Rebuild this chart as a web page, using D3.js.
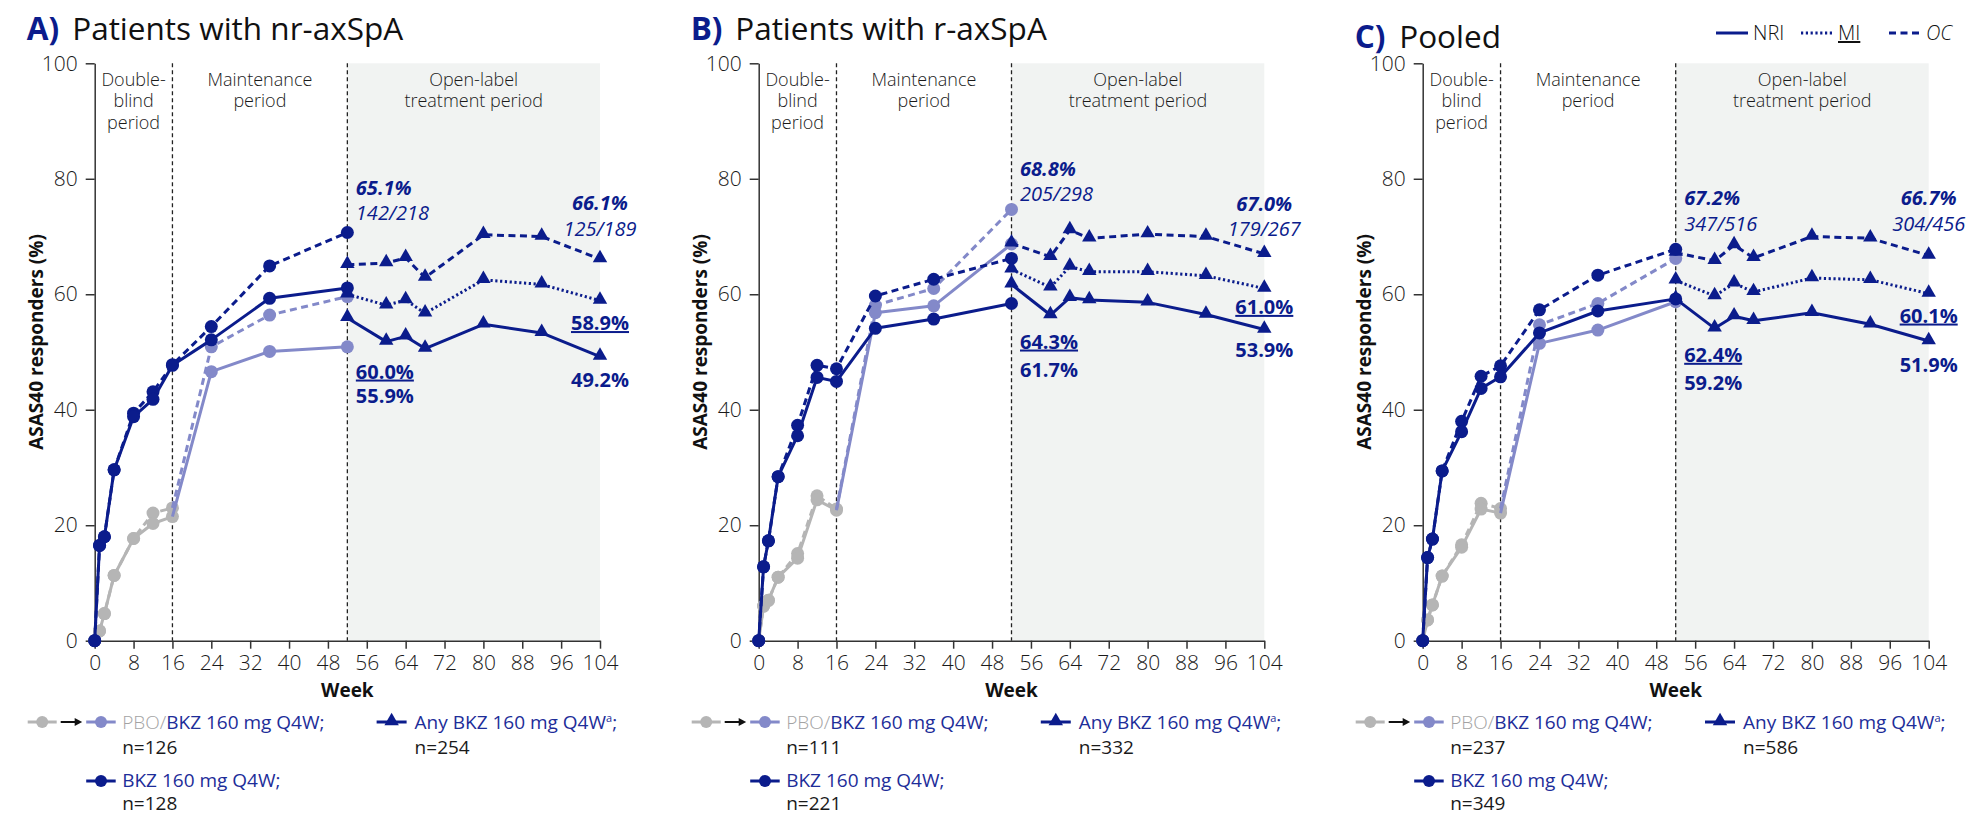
<!DOCTYPE html>
<html>
<head>
<meta charset="utf-8">
<script src="https://cdn.jsdelivr.net/npm/d3@7"></script>
<style>
  body { margin: 0; background: #fff; }
  text { font-family: "Open Sans", Lato, sans-serif; }
  .lt { font-weight: 300; }
</style>
</head>
<body>
<svg id="chart" width="1968" height="816"></svg>
<script>
// ---- data (ASAS40 responders, %) ----
const xTicks = [0, 8, 16, 24, 32, 40, 48, 56, 64, 72, 80, 88, 96, 104];
const yTicks = [0, 20, 40, 60, 80, 100];
const periodBreaks = [16, 52];

const weeksEarly = [0, 1, 2, 4, 8, 12, 16];
const weeksSwitch = [16, 24, 36, 52];
const weeksBkz = [0, 1, 2, 4, 8, 12, 16, 24, 36, 52];
const weeksOle = [52, 60, 64, 68, 80, 92, 104];

// A) nr-axSpA
const pboNriA = [0, 1.7, 4.7, 11.3, 17.7, 20.3, 21.5];
const pboOcA = [0, 1.7, 4.7, 11.3, 17.7, 22.1, 23.0];
const switchNriA = [21.5, 46.6, 50.1, 50.9];
const switchOcA = [23.0, 50.9, 56.4, 59.6];
const bkzNriA = [0, 16.5, 18.0, 29.6, 38.8, 41.8, 47.7, 52.1, 59.3, 61.1];
const bkzOcA = [0, 16.5, 18.0, 29.6, 39.4, 43.1, 47.8, 54.4, 64.9, 70.7];
const anyNriA = [55.9, 51.8, 52.7, 50.6, 54.8, 53.3, 49.2];
const anyMiA = [60.0, 58.1, 59.0, 56.7, 62.5, 61.7, 58.9];
const anyOcA = [65.1, 65.4, 66.3, 62.9, 70.3, 70.0, 66.1];

// B) r-axSpA
const pboNriB = [0, 6.0, 7.0, 11.0, 14.3, 24.4, 22.6];
const pboOcB = [0, 6.0, 7.0, 11.0, 15.1, 25.1, 22.8];
const switchNriB = [22.6, 56.8, 58.0, 68.7];
const switchOcB = [22.8, 58.1, 61.0, 74.7];
const bkzNriB = [0, 12.8, 17.3, 28.4, 35.5, 45.6, 44.9, 54.1, 55.7, 58.4];
const bkzOcB = [0, 12.8, 17.3, 28.4, 37.3, 47.7, 47.1, 59.7, 62.6, 66.2];
const anyNriB = [61.7, 56.4, 59.4, 59.0, 58.6, 56.5, 53.9];
const anyMiB = [64.3, 61.2, 64.8, 63.9, 63.9, 63.2, 61.0];
const anyOcB = [68.8, 66.5, 71.1, 69.7, 70.4, 70.0, 67.0];

// C) pooled
const pboNriC = [0, 3.6, 6.2, 11.2, 16.2, 22.8, 22.1];
const pboOcC = [0, 3.6, 6.2, 11.2, 16.6, 23.8, 22.9];
const switchNriC = [22.1, 51.5, 53.8, 58.7];
const switchOcC = [22.9, 54.7, 58.4, 66.2];
const bkzNriC = [0, 14.4, 17.6, 29.4, 36.2, 43.7, 45.7, 53.3, 57.1, 59.2];
const bkzOcC = [0, 14.4, 17.6, 29.4, 38.0, 45.8, 47.6, 57.3, 63.3, 67.8];
const anyNriC = [59.2, 54.1, 56.2, 55.4, 56.8, 54.8, 51.9];
const anyMiC = [62.4, 59.7, 61.9, 60.4, 62.8, 62.5, 60.1];
const anyOcC = [67.2, 65.8, 68.5, 66.3, 70.0, 69.7, 66.7];

// annotations: [text, week, anchor value, style]
const labelsA = [["65.1%", 52, 77.2, "bi"], ["142/218", 52, 72.9, "i"], ["66.1%", 104, 74.6, "bi"], ["125/189", 104, 70.1, "i"],
  ["58.9%", 104, 53.8, "bu"], ["49.2%", 104, 44.0, "b"], ["60.0%", 52, 45.4, "bu"], ["55.9%", 52, 41.1, "b"]];
const labelsB = [["68.8%", 52, 80.5, "bi"], ["205/298", 52, 76.2, "i"], ["67.0%", 104, 74.5, "bi"], ["179/267", 104, 70.1, "i"],
  ["61.0%", 104, 56.6, "bu"], ["53.9%", 104, 49.2, "b"], ["64.3%", 52, 50.6, "bu"], ["61.7%", 52, 45.7, "b"]];
const labelsC = [["67.2%", 52, 75.5, "bi"], ["347/516", 52, 71.0, "i"], ["66.7%", 104, 75.5, "bi"], ["304/456", 104, 71.0, "i"],
  ["60.1%", 104, 55.1, "bu"], ["51.9%", 104, 46.6, "b"], ["62.4%", 52, 48.3, "bu"], ["59.2%", 52, 43.4, "b"]];

const panels = [
  { letter: "A)", title: "Patients with nr-axSpA", ty: 40, x0: 94.7, x1: 600,
    pboNri: pboNriA, pboOc: pboOcA, swNri: switchNriA, swOc: switchOcA, bkzNri: bkzNriA, bkzOc: bkzOcA,
    anyNri: anyNriA, anyMi: anyMiA, anyOc: anyOcA, labels: labelsA, nSw: "n=126", nBkz: "n=128", nAny: "n=254" },
  { letter: "B)", title: "Patients with r-axSpA", ty: 40, x0: 758.7, x1: 1264.3,
    pboNri: pboNriB, pboOc: pboOcB, swNri: switchNriB, swOc: switchOcB, bkzNri: bkzNriB, bkzOc: bkzOcB,
    anyNri: anyNriB, anyMi: anyMiB, anyOc: anyOcB, labels: labelsB, nSw: "n=111", nBkz: "n=221", nAny: "n=332" },
  { letter: "C)", title: "Pooled", ty: 48, x0: 1422.7, x1: 1928.7,
    pboNri: pboNriC, pboOc: pboOcC, swNri: switchNriC, swOc: switchOcC, bkzNri: bkzNriC, bkzOc: bkzOcC,
    anyNri: anyNriC, anyMi: anyMiC, anyOc: anyOcC, labels: labelsC, nSw: "n=237", nBkz: "n=349", nAny: "n=586" }
];

// ---- styles ----
const BLUE = "#0b1c8c", LIGHT = "#8389c9", GRAY = "#b5b5b5", SHADE = "#f1f3f2", TEXT = "#1a1a1a", LEGBLUE = "#1d2d99";
const DASH = "7,4.5", DOT = "2.2,2.6";

const svg = d3.select("#chart");
const y = d3.scaleLinear().domain([0, 100]).range([640.7, 63.3]);

function drawSeries(g, x, weeks, vals, color, dash, marker, skipFirst) {
  const pts = weeks.map((w, i) => [w, vals[i]]);
  g.append("path").datum(pts)
    .attr("fill", "none").attr("stroke", color).attr("stroke-width", 3)
    .attr("stroke-dasharray", dash).attr("stroke-linejoin", "round")
    .attr("d", d3.line().x(d => x(d[0])).y(d => y(d[1])));
  const mp = skipFirst ? pts.slice(1) : pts;
  if (marker === "circle") {
    g.selectAll(null).data(mp).enter().append("circle")
      .attr("cx", d => x(d[0])).attr("cy", d => y(d[1])).attr("r", 6.5).attr("fill", color);
  } else {
    g.selectAll(null).data(mp).enter().append("path")
      .attr("transform", d => `translate(${x(d[0])},${y(d[1]) - 1})`)
      .attr("d", d3.symbol().type(d3.symbolTriangle).size(90)).attr("fill", color);
  }
}

function drawPanel(p) {
  const x = d3.scaleLinear().domain([0, 104]).range([p.x0, p.x1]);
  const g = svg.append("g");

  // title
  g.append("text").attr("x", p.x0 - 68).attr("y", p.ty).attr("font-size", 31.5)
    .attr("font-weight", "bold").attr("fill", BLUE).text(p.letter);
  g.append("text").attr("x", p.x0 - 68 + (p.letter === "A)" ? 45.5 : 44.5)).attr("y", p.ty).attr("font-size", 31.5)
    .attr("fill", "#111").text(p.title);

  // open-label shading
  g.append("rect").attr("x", x(52)).attr("y", y(100))
    .attr("width", x(104) - x(52)).attr("height", y(0) - y(100)).attr("fill", SHADE);

  // period separators
  g.selectAll(null).data(periodBreaks).enter().append("line")
    .attr("x1", d => x(d)).attr("x2", d => x(d)).attr("y1", y(100)).attr("y2", y(0))
    .attr("stroke", "#222").attr("stroke-width", 1.3).attr("stroke-dasharray", "4,3");

  // period labels
  const top = y(100);
  const per = [[8, ["Double-", "blind", "period"]], [34, ["Maintenance", "period"]], [78, ["Open-label", "treatment period"]]];
  per.forEach(([w, lines]) => {
    lines.forEach((s, i) => {
      g.append("text").attr("class", "lt").attr("x", x(w)).attr("y", top + 22.5 + i * 21.5)
        .attr("text-anchor", "middle").attr("font-size", 18).attr("fill", TEXT).text(s);
    });
  });

  // axes
  const xa = g.append("g").attr("transform", `translate(0,${y(0)})`)
    .call(d3.axisBottom(x).tickValues(xTicks).tickSize(8).tickPadding(6).tickSizeOuter(0));
  const ya = g.append("g").attr("transform", `translate(${x(0)},0)`)
    .call(d3.axisLeft(y).tickValues(yTicks).tickSize(9).tickPadding(8).tickSizeOuter(0));
  [xa, ya].forEach(a => {
    a.selectAll("path, line").attr("stroke", "#333").attr("stroke-width", 1.5);
    a.selectAll("text").attr("class", "lt").attr("font-size", 21).attr("fill", TEXT)
      .attr("font-family", "'Open Sans', sans-serif");
  });

  g.append("text").attr("transform", `translate(${x(0) - 58.5},342) rotate(-90)`)
    .attr("text-anchor", "middle").attr("dy", "0.35em").attr("font-size", 19).attr("font-weight", "bold").attr("fill", "#111")
    .text("ASAS40 responders (%)");
  g.append("text").attr("x", x(52)).attr("y", 697).attr("text-anchor", "middle")
    .attr("font-size", 19).attr("font-weight", "bold").attr("fill", "#111").text("Week");

  // series
  drawSeries(g, x, weeksEarly, p.pboOc, GRAY, DASH, "circle");
  drawSeries(g, x, weeksEarly, p.pboNri, GRAY, null, "circle");
  drawSeries(g, x, weeksSwitch, p.swOc, LIGHT, DASH, "circle", true);
  drawSeries(g, x, weeksSwitch, p.swNri, LIGHT, null, "circle", true);
  drawSeries(g, x, weeksBkz, p.bkzOc, BLUE, DASH, "circle");
  drawSeries(g, x, weeksBkz, p.bkzNri, BLUE, null, "circle");
  drawSeries(g, x, weeksOle, p.anyOc, BLUE, DASH, "tri");
  drawSeries(g, x, weeksOle, p.anyMi, BLUE, DOT, "tri");
  drawSeries(g, x, weeksOle, p.anyNri, BLUE, null, "tri");

  // annotations
  p.labels.forEach(([s, w, v, st]) => {
    const el = g.append("text")
      .attr("x", w === 104 ? x(w) : x(w) + 8.5).attr("y", y(v))
      .attr("text-anchor", w === 104 ? "middle" : "start")
      .attr("font-size", 20).attr("fill", BLUE).text(s);
    if (st.includes("b")) el.attr("font-weight", "bold");
    if (st.includes("i")) el.attr("font-style", "italic");
    if (st.includes("u")) el.attr("text-decoration", "underline");
  });

  // bottom legend
  const x0 = x(0), ly1 = 722, ly3 = 781;
  const lg = g.append("g");
  lg.append("line").attr("x1", x0 - 67).attr("x2", x0 - 38).attr("y1", ly1).attr("y2", ly1).attr("stroke", GRAY).attr("stroke-width", 3);
  lg.append("circle").attr("cx", x0 - 52.5).attr("cy", ly1).attr("r", 6).attr("fill", GRAY);
  lg.append("line").attr("x1", x0 - 34).attr("x2", x0 - 18).attr("y1", ly1).attr("y2", ly1).attr("stroke", "#111").attr("stroke-width", 2);
  lg.append("path").attr("d", `M${x0 - 12.5},${ly1} L${x0 - 20},${ly1 - 4} L${x0 - 20},${ly1 + 4} Z`).attr("fill", "#111");
  lg.append("line").attr("x1", x0 - 8.5).attr("x2", x0 + 21).attr("y1", ly1).attr("y2", ly1).attr("stroke", LIGHT).attr("stroke-width", 3);
  lg.append("circle").attr("cx", x0 + 6.3).attr("cy", ly1).attr("r", 6).attr("fill", LIGHT);
  const t1 = lg.append("text").attr("x", x0 + 27.5).attr("y", 729).attr("font-size", 19);
  t1.append("tspan").attr("class", "lt").attr("fill", "#a3a3a3").text("PBO/");
  t1.append("tspan").attr("fill", LEGBLUE).text("BKZ 160 mg Q4W;");
  lg.append("text").attr("x", x0 + 27.5).attr("y", 754).attr("font-size", 19).attr("fill", TEXT).text(p.nSw);

  lg.append("line").attr("x1", x0 - 8.5).attr("x2", x0 + 21).attr("y1", ly3).attr("y2", ly3).attr("stroke", BLUE).attr("stroke-width", 3);
  lg.append("circle").attr("cx", x0 + 6.3).attr("cy", ly3).attr("r", 6).attr("fill", BLUE);
  lg.append("text").attr("x", x0 + 27.5).attr("y", 787).attr("font-size", 19).attr("fill", LEGBLUE).text("BKZ 160 mg Q4W;");
  lg.append("text").attr("x", x0 + 27.5).attr("y", 810).attr("font-size", 19).attr("fill", TEXT).text(p.nBkz);

  const tx = x0 + 0.5876 * (x(104) - x0);
  lg.append("line").attr("x1", tx - 15).attr("x2", tx + 15).attr("y1", ly1).attr("y2", ly1).attr("stroke", BLUE).attr("stroke-width", 3);
  lg.append("path").attr("transform", `translate(${tx},${ly1 - 1})`)
    .attr("d", d3.symbol().type(d3.symbolTriangle).size(90)).attr("fill", BLUE);
  const t2 = lg.append("text").attr("x", tx + 23).attr("y", 729).attr("font-size", 19).attr("fill", LEGBLUE);
  t2.append("tspan").text("Any BKZ 160 mg Q4W");
  t2.append("tspan").attr("font-size", 11).attr("dy", -7).text("a");
  t2.append("tspan").attr("dy", 7).text(";");
  lg.append("text").attr("x", tx + 23).attr("y", 754).attr("font-size", 19).attr("fill", TEXT).text(p.nAny);
}

panels.forEach(drawPanel);

// top method legend
const methods = [["NRI", null, 1716, "normal", "none"], ["MI", DOT, 1801, "normal", "underline"], ["OC", DASH, 1889, "italic", "none"]];
const ml = svg.append("g");
methods.forEach(([name, dash, mx, fs, dec]) => {
  ml.append("line").attr("x1", mx).attr("x2", mx + 32).attr("y1", 33).attr("y2", 33)
    .attr("stroke", BLUE).attr("stroke-width", 3).attr("stroke-dasharray", dash);
  ml.append("text").attr("class", "lt").attr("x", mx + 37).attr("y", 40).attr("font-size", 20).attr("fill", "#111")
    .attr("font-style", fs).attr("text-decoration", dec).text(name);
});
</script>
</body>
</html>
